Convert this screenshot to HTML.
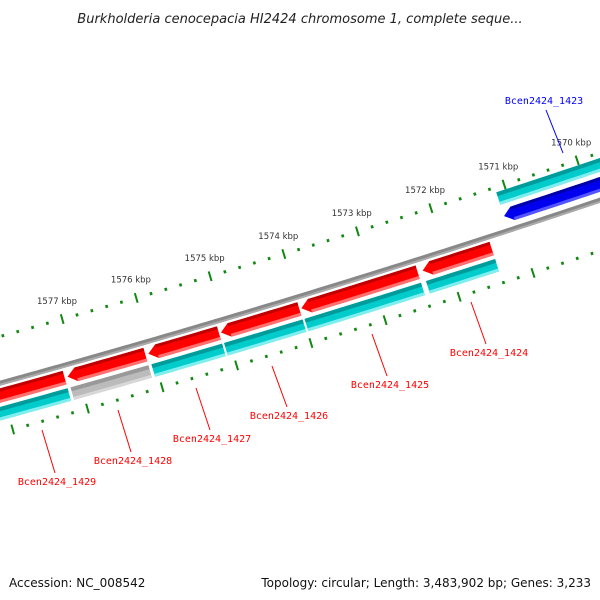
<!DOCTYPE html>
<html><head><meta charset="utf-8"><style>
html,body{margin:0;padding:0;background:#fff}
svg{display:block;font-family:"DejaVu Sans","Liberation Sans",sans-serif}
</style></head><body>
<svg id="map" width="600" height="600" viewBox="0 0 600 600" xmlns="http://www.w3.org/2000/svg">
<rect width="600" height="600" fill="#fff"/>
<text x="300" y="23" text-anchor="middle" font-size="13" font-style="italic" fill="#222">Burkholderia cenocepacia HI2424 chromosome 1, complete seque...</text>
<text x="9" y="587" font-size="12" fill="#111">Accession: NC_008542</text>
<text x="591" y="587" text-anchor="end" font-size="12" fill="#111">Topology: circular; Length: 3,483,902 bp; Genes: 3,233</text>
<g id="layer"></g>
</svg>
<script>
// ---- data ----
const geneNames  = ["Bcen2424_1429","Bcen2424_1428","Bcen2424_1427","Bcen2424_1426","Bcen2424_1425","Bcen2424_1424","Bcen2424_1423"];
const geneStart  = [1577176,1576091,1575100,1574015,1572414,1571410,1568520];
const geneEnd    = [1579416,1577136,1576050,1575073,1573988,1572346,1571128];
const geneStrand = [-1,-1,-1,-1,-1,-1,1];
const cogColor   = ["#00cccc","#bbbbbb","#00cccc","#00cccc","#00cccc","#00cccc","#00cccc"];
const tickMin = 1567000, tickMax = 1581000, tickStep = 200;
const labelKbp = [1570,1571,1572,1573,1574,1575,1576,1577];
const geneLabelPos = [[57,485],[133,464],[212,442],[289,419],[390,388],[489,356],[544,104]];
const geneLineFrom = [[42,430],[118,410],[196,388],[272,366],[372,334],[471,302],[546,110]];
const geneLineTo   = [[55,473],[131,452],[210,430],[287,407],[387,376],[486,344],[563,153]];

// ---- geometry ----
const cx=-3034, cy=-10642, R=11435;
function pt(bp,d){const a=0.2753+(1577000-bp)*6.76e-6;const r=R-d;return [cx+r*Math.sin(a), cy+r*Math.cos(a)];}
const NS="http://www.w3.org/2000/svg";
const layer=document.getElementById('layer');
function mk(tag,attrs){const e=document.createElementNS(NS,tag);for(const k in attrs)e.setAttribute(k,attrs[k]);layer.appendChild(e);return e;}
function arcPts(b1,b2,d){const n=Math.max(2,Math.ceil(Math.abs(b2-b1)/100));const p=[];for(let i=0;i<=n;i++){p.push(pt(b1+(b2-b1)*i/n,d));}return p;}
function band(b1,b2,d1,d2){const p=arcPts(b1,b2,d1).concat(arcPts(b2,b1,d2));return p.map(q=>q[0].toFixed(2)+","+q[1].toFixed(2)).join(" ");}
function arrowPoly(b1,b2,d1,d2,dir){const h=115;let p;
  if(dir<0){p=[pt(b2,(d1+d2)/2)].concat(arcPts(b2-h,b1,d1)).concat(arcPts(b1,b2-h,d2));}
  else{p=arcPts(b1,b2-h,d1).concat([pt(b2,(d1+d2)/2)]).concat(arcPts(b2-h,b1,d2));}
  return p.map(q=>q[0].toFixed(2)+","+q[1].toFixed(2)).join(" ");}

// backbone
let e=mk('polygon',{points:band(tickMin,tickMax,2.5,-2.5),fill:'#888'});

e=mk('polygon',{points:band(tickMin,tickMax,-0.5,-2.5),fill:'#aaa'});


// ticks
for(let bp=tickMin;bp<=tickMax;bp+=tickStep){
  const major=bp%1000===0;
  [45,-48].forEach((d,ri)=>{
    const a=pt(bp,major?d-5:d-1.5), b=pt(bp,major?d+5:d+1.5);
    const t=mk('line',{x1:a[0],y1:a[1],x2:b[0],y2:b[1],stroke:'#118811','stroke-width':major?2:2.6});
    
    
  });
}
labelKbp.forEach(k=>{
  const p=pt(k*1000,64);
  const t=mk('text',{x:p[0],y:p[1]+3,'text-anchor':'middle','font-size':'8.5',fill:'#333'});
  t.textContent=k+" kbp";
  
  
});

// genes
geneNames.forEach((nm,i)=>{
  const s=geneStart[i], en=geneEnd[i], dir=geneStrand[i];
  let d1,d2,main,dark,light,c1,c2;
  if(dir<0){d1=-5;d2=-19;main='#ff0000';dark='#c00000';light='#ff7070';c1=-23;c2=-36;}
  else{d1=22;d2=8;main='#0000ee';dark='#0000aa';light='#5555ff';c1=40;c2=27;}
  const g=mk('polygon',{points:arrowPoly(s,en,d1,d2,dir),fill:main});
  
  
  const h=115;const bs=s, be=en-h;
  const top=mk('polygon',{points:band(bs,be,d1,d1-3),fill:dark});
  
  const bot=mk('polygon',{points:band(bs,be,d2+3,d2),fill:light});
  
  const col=cogColor[i];
  const c=mk('polygon',{points:band(s,en,c1,c2),fill:col});
  
  
  const cd=mk('polygon',{points:band(s,en,c1,c1-4),fill:col==='#bbbbbb'?'#999':'#009c9c'});
  
  const cl=mk('polygon',{points:band(s,en,c2+3,c2),fill:col==='#bbbbbb'?'#d8d8d8':'#80eeee'});
  
  const colr=dir<0?'#ff0000':'#0000ff';
  const ln=mk('line',{x1:geneLineFrom[i][0],y1:geneLineFrom[i][1],x2:geneLineTo[i][0],y2:geneLineTo[i][1],stroke:colr,'stroke-width':1});
  
  
  const tx=mk('text',{x:geneLabelPos[i][0],y:geneLabelPos[i][1],'text-anchor':'middle','font-size':'10','font-family':'"DejaVu Sans Mono","Liberation Mono",monospace',fill:colr});
  tx.textContent=nm;
  
  
});
</script>
</body></html>
